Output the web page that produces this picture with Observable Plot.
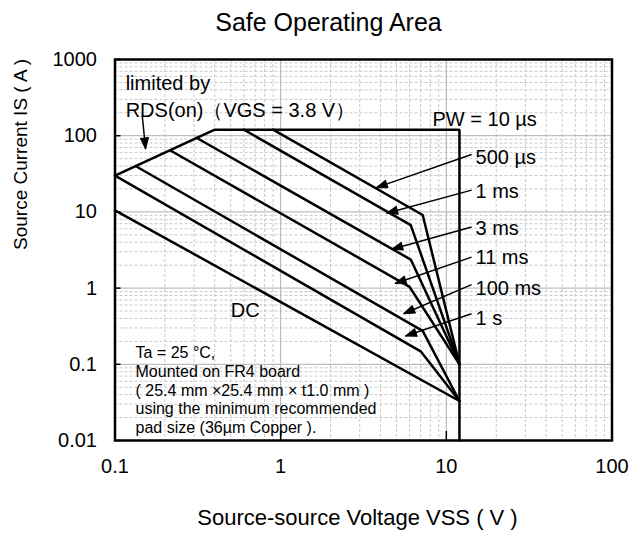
<!DOCTYPE html>
<html><head><meta charset="utf-8">
<script src="https://cdn.jsdelivr.net/npm/d3@7"></script>
<script src="https://cdn.jsdelivr.net/npm/@observablehq/plot@0.6"></script>
<style>
body{margin:0;background:#fff;font-family:"Liberation Sans",Arial,sans-serif;}
#title{height:44px;line-height:44px;font-size:25px;text-align:center;width:640px;padding-left:17px;box-sizing:border-box;color:#000;}
</style></head><body>
<div id="title">Safe Operating Area</div>
<div id="chart"></div>
<script>
// ---- axis ticks ----
const xMajor = [0.1, 1, 10, 100];
const xTickLabels = ["0.1", "1", "10", "100"];
const yMajor = [0.01, 0.1, 1, 10, 100, 1000];
const yTickLabels = ["0.01", "0.1", "1", "10", "100", "1000"];
const minorMult = [2, 3, 4, 5, 6, 7, 8, 9];

// ---- curves (V in volts, I in amperes) ----
const pw10usV = [0.1, 0.4, 12, 12],   pw10usI = [30, 120, 120, 0.01];
const pw500usV = [0.9, 7.2, 12],      pw500usI = [120, 9.1, 0.1];
const pw1msV = [0.6, 6.1, 12],        pw1msI = [120, 6.7, 0.1];
const pw3msV = [0.31, 6.1, 12],       pw3msI = [94, 2.37, 0.1];
const pw11msV = [0.216, 6.0, 12],     pw11msI = [64, 1.04, 0.1];
const pw100msV = [0.133, 7.2, 12],    pw100msI = [40, 0.275, 0.033];
const pw1sV = [0.1, 7.0, 12],         pw1sI = [30, 0.148, 0.033];
const dcV = [0.1, 12],                dcI = [10.5, 0.033];

// ---- curve labels ----
const labelText = ["PW = 10 \u00b5s", "500 \u00b5s", "1 ms", "3 ms", "11 ms", "100 ms", "1 s"];
const labelV = [8.25, 15, 15, 15, 15, 15, 15];
const labelI = [164, 51, 18.7, 6.06, 2.52, 1.0, 0.394];

// ---- arrows ----
const arrowFromV = [14.2, 14.2, 14.2, 14.2, 14.2, 14.2, 0.146];
const arrowFromI = [56.6, 19.3, 6.34, 2.55, 1.11, 0.461, 184];
const arrowToV = [3.78, 4.36, 4.68, 4.91, 5.53, 5.67, 0.153];
const arrowToI = [20.8, 9.6, 3.24, 1.15, 0.461, 0.235, 67];

// ---- notes ----
const limitText = ["limited by", "RDS(on)\uff08VGS = 3.8 V\uff09"];
const limitV = [0.116, 0.116];
const limitI = [480, 214];
const dcText = "DC", dcTextV = 0.611, dcTextI = 0.508;
const conditionLines = ["Ta = 25 \u00b0C,", "Mounted on FR4 board", "( 25.4 mm \u00d725.4 mm \u00d7 t1.0 mm )", "using the minimum recommended", "pad size (36\u00b5m Copper )."];
const conditionV = 0.133, conditionI = 0.0464;

// ---- build tables ----
const curves = [
  ["PW = 10 \u00b5s", pw10usV, pw10usI], ["500 \u00b5s", pw500usV, pw500usI], ["1 ms", pw1msV, pw1msI],
  ["3 ms", pw3msV, pw3msI], ["11 ms", pw11msV, pw11msI], ["100 ms", pw100msV, pw100msI],
  ["1 s", pw1sV, pw1sI], ["DC", dcV, dcI]
];
const lineData = curves.flatMap(([name, vs, is]) => vs.map((v, i) => ({name, v, i: is[i]})));
const xMinor = xMajor.slice(0, -1).flatMap(d => minorMult.map(m => d * m));
const yMinor = yMajor.slice(0, -1).flatMap(d => minorMult.map(m => d * m));

const W = 640, H = 494, ML = 114.5, MR = 28.5, MT = 15, MB = 98;
const plotW = W - ML - MR, plotH = H - MT - MB;
const xs = d3.scaleLog().domain([0.1, 100]).range([ML, W - MR]);
const ys = d3.scaleLog().domain([0.01, 1000]).range([H - MB, MT]);
const arrows = arrowFromV.map((v, k) => {
  const dx = xs(arrowToV[k]) - xs(v), dy = ys(arrowToI[k]) - ys(arrowFromI[k]);
  return {x1: v, y1: arrowFromI[k], x2: arrowToV[k], y2: arrowToI[k], angle: Math.atan2(dx, -dy) * 180 / Math.PI};
});
const labels = labelText.map((t, k) => ({t, v: labelV[k], i: labelI[k]}));
const limits = limitText.map((t, k) => ({t, v: limitV[k], i: limitI[k]}));
const headShape = {draw(ctx, l) { ctx.moveTo(0, -l); ctx.lineTo(4, 0); ctx.lineTo(-4, 0); ctx.closePath(); }};

const chart = Plot.plot({
  width: W, height: H,
  marginLeft: ML, marginRight: MR, marginTop: MT, marginBottom: MB,
  style: {fontFamily: "'Liberation Sans', Arial, sans-serif", fontSize: "20px", color: "black", background: "white"},
  x: {type: "log", domain: [0.1, 100]},
  y: {type: "log", domain: [0.01, 1000]},
  marks: [
    Plot.ruleX(xMinor, {stroke: "#c8c8c8", strokeDasharray: "3,2", strokeWidth: 1}),
    Plot.ruleY(yMinor, {stroke: "#c8c8c8", strokeDasharray: "3,2", strokeWidth: 1}),
    Plot.ruleX(xMajor, {stroke: "#b0b0b0", strokeWidth: 1}),
    Plot.ruleY(yMajor, {stroke: "#b0b0b0", strokeWidth: 1}),
    Plot.line(lineData, {x: "v", y: "i", z: "name", stroke: "black", strokeWidth: 2.5, strokeLinejoin: "miter"}),
    Plot.frame({stroke: "black", strokeWidth: 2.5}),
    Plot.tickY(yMajor, {y: d => d, insetRight: plotW - 6, stroke: "black", strokeWidth: 1.5}),
    Plot.tickX(xMajor, {x: d => d, insetTop: plotH - 9, stroke: "black", strokeWidth: 1.5}),
    Plot.link(arrows, {x1: "x1", y1: "y1", x2: "x2", y2: "y2", stroke: "black", strokeWidth: 1.5}),
    Plot.vector(arrows, {x: "x2", y: "y2", rotate: "angle", length: 11, anchor: "end", shape: headShape, fill: "black", stroke: "black", strokeWidth: 1}),
    Plot.text(labels, {x: "v", y: "i", text: "t", textAnchor: "start", fontSize: 20, fill: "black"}),
    Plot.text(limits, {x: "v", y: "i", text: "t", textAnchor: "start", fontSize: 20, fill: "black"}),
    Plot.text([dcText], {x: () => dcTextV, y: () => dcTextI, textAnchor: "middle", fontSize: 20, fill: "black"}),
    Plot.text([conditionLines.join("\n")], {x: () => conditionV, y: () => conditionI, textAnchor: "start", lineAnchor: "middle", lineHeight: 1.17, fontSize: 16, fill: "black"}),
    Plot.axisX(xMajor, {tickSize: 0, tickPadding: 18, tickFormat: d => xTickLabels[xMajor.indexOf(d)], label: null, fontSize: 20}),
    Plot.axisY(yMajor, {tickSize: 0, tickPadding: 18, tickFormat: d => yTickLabels[yMajor.indexOf(d)], label: null, fontSize: 20}),
    Plot.text(["Source-source Voltage VSS ( V )"], {frameAnchor: "bottom", dy: 84, dx: -6, fontSize: 22, fill: "black"}),
    Plot.text(["Source Current IS ( A )"], {frameAnchor: "left", dx: -94, rotate: -90, fontSize: 19, fill: "black"})
  ]
});
document.getElementById("chart").appendChild(chart);
</script></body></html>
